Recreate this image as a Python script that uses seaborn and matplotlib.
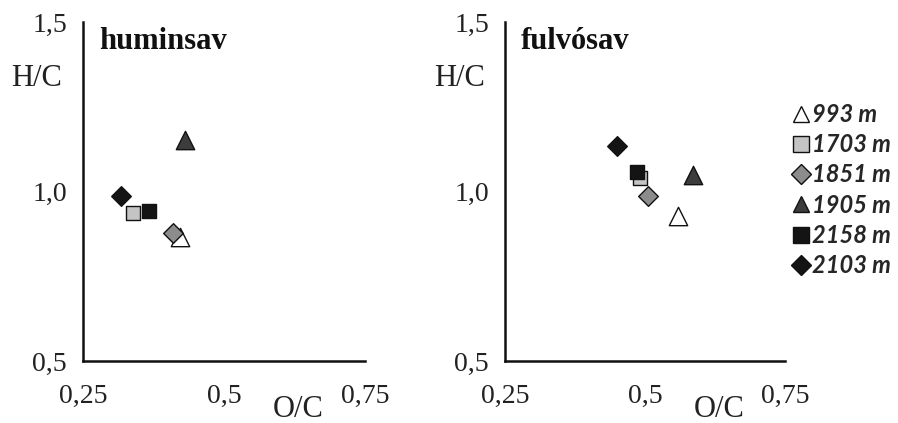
import matplotlib
matplotlib.use("Agg")
import matplotlib.pyplot as plt
from matplotlib.lines import Line2D
import seaborn as sns
import pandas as pd

# Samples (depth) and their O/C, H/C atomic ratios
samples = ["993 m", "1703 m", "1851 m", "1905 m", "2158 m", "2103 m"]
humic_oc = [0.422, 0.339, 0.410, 0.431, 0.367, 0.317]
humic_hc = [0.866, 0.937, 0.878, 1.152, 0.942, 0.987]
fulvic_oc = [0.559, 0.491, 0.505, 0.586, 0.486, 0.450]
fulvic_hc = [0.928, 1.040, 0.987, 1.049, 1.058, 1.134]
panel_titles = ["huminsav", "fulvósav"]
x_ticks = [0.25, 0.5, 0.75]
x_ticklabels = ["0,25", "0,5", "0,75"]
y_ticks = [0.5, 1.0, 1.5]
y_ticklabels = ["0,5", "1,0", "1,5"]

markers = {"993 m": "^", "1703 m": "s", "1851 m": "D",
           "1905 m": "^", "2158 m": "s", "2103 m": "D"}
colors = {"993 m": "#ffffff", "1703 m": "#c4c4c4", "1851 m": "#8c8c8c",
          "1905 m": "#3c3c3c", "2158 m": "#141414", "2103 m": "#141414"}
sizes = {"993 m": 175, "1703 m": 115, "1851 m": 100,
         "1905 m": 175, "2158 m": 115, "2103 m": 100}

df = pd.concat([
    pd.DataFrame({"sample": samples, "OC": humic_oc, "HC": humic_hc, "panel": panel_titles[0]}),
    pd.DataFrame({"sample": samples, "OC": fulvic_oc, "HC": fulvic_hc, "panel": panel_titles[1]}),
])

sns.set_style("white")
serif = ["Liberation Serif", "DejaVu Serif"]

fig = plt.figure(figsize=(8.98, 4.23), dpi=100)
ax1 = fig.add_axes([0.0924, 0.1466, 0.314, 0.8014])
ax2 = fig.add_axes([0.5624, 0.1466, 0.312, 0.8014])

for ax, title in zip([ax1, ax2], panel_titles):
    sub = df[df["panel"] == title]
    for s in samples:
        row = sub[sub["sample"] == s]
        sns.scatterplot(data=row, x="OC", y="HC", marker=markers[s], s=sizes[s],
                        color=colors[s], edgecolor="#111111", linewidth=1.0,
                        ax=ax, legend=False, zorder=3)
    ax.set_xlim(0.25, 0.75)
    ax.set_ylim(0.5, 1.5)
    ax.set_xticks(x_ticks)
    ax.set_xticklabels(x_ticklabels, fontfamily=serif, fontsize=20)
    ax.set_yticks(y_ticks)
    ax.set_yticklabels(y_ticklabels, fontfamily=serif, fontsize=20)
    ax.tick_params(axis="both", direction="inout", length=7, width=1.6,
                   color="#111111", labelcolor="#222222")
    ax.tick_params(axis="x", pad=13)
    ax.tick_params(axis="y", pad=8)
    for side in ["top", "right"]:
        ax.spines[side].set_visible(False)
    for side in ["left", "bottom"]:
        ax.spines[side].set_linewidth(1.8)
        ax.spines[side].set_color("#111111")
    ax.set_xlabel("")
    ax.set_ylabel("")
    ax.text(0.057, 0.92, title, transform=ax.transAxes, fontfamily=serif,
            fontsize=22, fontweight="bold", color="#111111",
            va="baseline", ha="left")
    ax.text(-0.163, 0.833, "H/C", transform=ax.transAxes, fontfamily=serif,
            fontsize=22, color="#222222", va="center", ha="center")
    ax.text(0.765, -0.142, "O/C", transform=ax.transAxes, fontfamily=serif,
            fontsize=22, color="#222222", va="center", ha="center")

handles = [Line2D([0], [0], linestyle="none", marker=markers[s],
                  markersize={"^": 12, "s": 11, "D": 9.7}[markers[s]],
                  markerfacecolor=colors[s], markeredgecolor="#111111",
                  markeredgewidth=1.0) for s in samples]
fig.legend(handles, samples, loc="upper left", bbox_to_anchor=(0.883, 0.757),
           frameon=False, handlelength=0.7, handletextpad=0.1,
           labelspacing=0.31, borderaxespad=0, borderpad=0,
           prop={"family": ["Lato", "DejaVu Sans"], "weight": "bold",
                 "style": "italic", "size": 17})

fig.savefig("out.png", dpi=100)
